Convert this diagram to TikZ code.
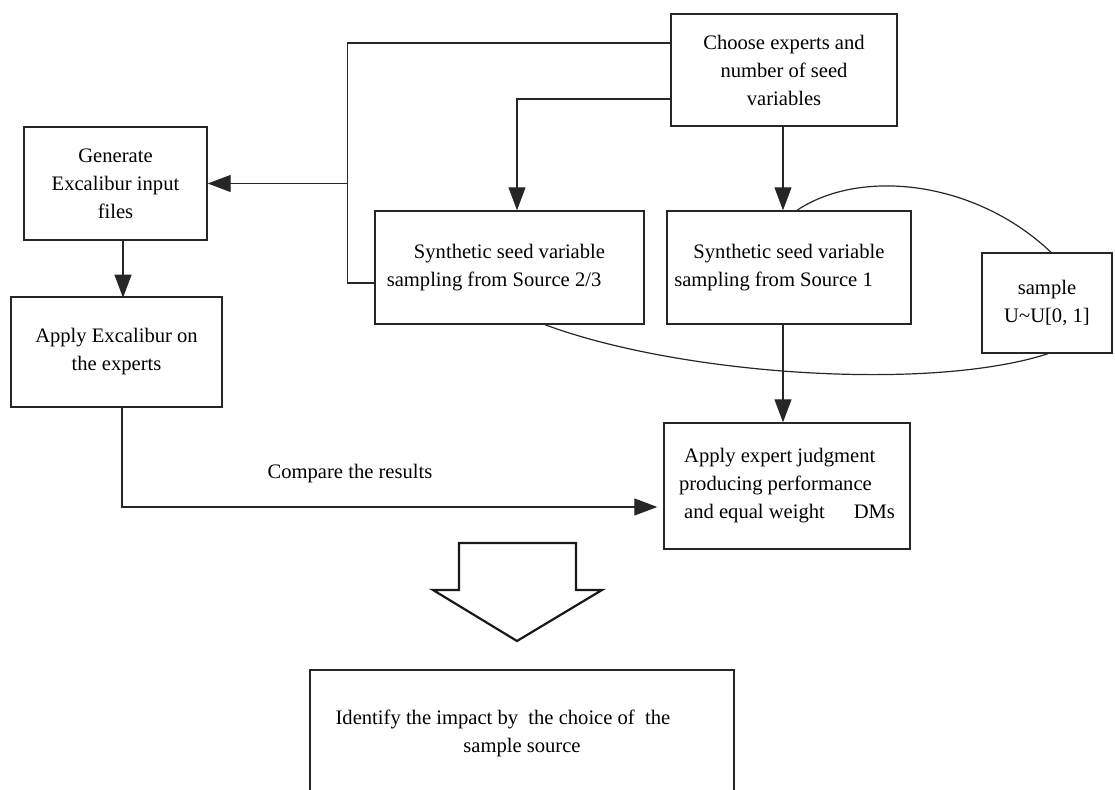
\documentclass[tikz,border=0pt]{standalone}
\usepackage{fontspec}
\setmainfont{Liberation Serif}
\usetikzlibrary{calc, arrows.meta}

\begin{document}
\begin{tikzpicture}[
    x=0.5pt, y=-0.5pt,
    font=\fontsize{10.3}{14}\selectfont,
    box/.style={rectangle, draw=black!85, line width=0.7pt, align=center, inner sep=0pt},
    line/.style={draw=black!85, line width=0.6pt},
    arr/.style={line, -{Triangle[length=11.5pt, width=8.5pt]}},
    bigarrow/.style={draw=black!90, line width=1.1pt, line join=miter}
]

    % Marco de la figura
    \useasboundingbox (0,0) rectangle (1115,790);

    % Cajas
    \node[box, minimum width=113pt, minimum height=56pt] (choose) at (784,70)
        {Choose experts and\\number of seed\\variables};
    \node[box, minimum width=91.5pt, minimum height=56.5pt] (generate) at (115.5,183.5)
        {Generate\\Excalibur input\\files};
    \node[box, minimum width=105.5pt, minimum height=55pt] (applyexc) at (116.5,352)
        {Apply Excalibur on\\the experts};
    \node[box, minimum width=134.5pt, minimum height=56.5pt] (syn23) at (509.5,267.5)
        {Synthetic seed variable\\sampling from Source 2/3\hspace*{1.5em}};
    \node[box, minimum width=122pt, minimum height=56.5pt] (syn1) at (789,267.5)
        {Synthetic seed variable\\sampling from Source 1\hspace*{1.5em}};
    \node[box, minimum width=65pt, minimum height=50pt] (sample) at (1047,303)
        {sample\\U\textasciitilde U[0, 1]};
    \node[box, minimum width=123pt, minimum height=63pt, align=left] (expert) at (787,486)
        {\ Apply expert judgment\\producing performance\\\ and equal weight\hspace{1.4em}DMs};
    \node[box, minimum width=212pt, minimum height=63.5pt] (identify) at (522,733.5)
        {Identify the impact by\ \ the choice of\ \ the\hspace*{1.85em}\\sample source};

    % Punto de reparto
    \coordinate (split) at (348,183.5);

    % Conexiones desde la seleccion de expertos
    \draw[line] ($(choose.west)+(0,-27)$) -| ($(syn23.west)+(-27,15.5)$) -- ($(syn23.west)+(0,15.5)$);
    \draw[arr] (split) -- (generate.east);
    \draw[arr] ($(choose.west)+(0,29)$) -| ($(syn23.north)+(7.5,0)$);
    \draw[arr] ($(choose.south)+(-1,0)$) -- ($(syn1.north)+(-6,0)$);
    \draw[arr] ($(syn1.south)+(-6,0)$) -- ($(expert.north)+(-4,0)$);
    \draw[arr] ($(generate.south)+(7.5,0)$) -- ++(0,57);

    % Comparacion de resultados
    \draw[arr, shorten >=3pt] ($(applyexc.south)+(5.5,0)$) |- ($(expert.west)+(0,21)$);
    \node (compare) at (350,474) {Compare the results};

    % Muestreo U~U[0,1]
    \draw[line] ($(syn1.north)+(8,0)$) .. controls (860,168) and (975,180) .. ($(sample.north)+(4,0)$);
    \draw[line] ($(syn23.south)+(35.5,0)$) .. controls (680,375) and (930,392) .. ($(sample.south)+(1,0)$);

    % Flecha grande hacia la conclusion
    \draw[bigarrow] (459,543) -- (576,543) -- (576,590) -- (602,590) -- (517,641)
        -- (433,590) -- (459,590) -- cycle;

\end{tikzpicture}
\end{document}
